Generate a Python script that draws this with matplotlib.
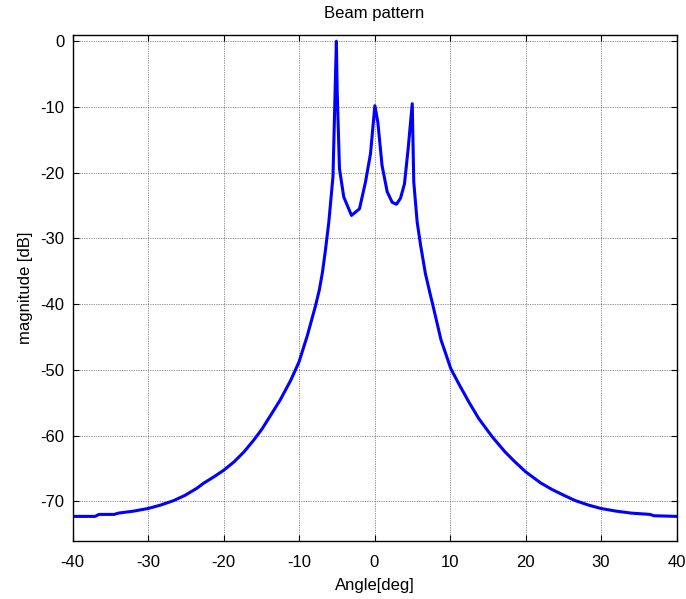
import matplotlib
matplotlib.use("Agg")
import matplotlib.pyplot as plt
import numpy as np

# data
angle_deg = [-40, -37, -36.5, -34.5, -33.9, -31.9, -30, -28.4, -26.6, -25.1,
             -23.5, -22.7, -21.3, -20, -18.6, -17.3, -16, -14.9, -13.8, -12.5,
             -11.1, -10, -8.9, -7.8, -7.3, -6.9, -6.5, -6.05, -5.5, -5.05,
             -4.94, -4.64, -4.07, -3.05, -1.99, -1.19, -0.53, 0.05, 0.44, 1.0,
             1.68, 2.34, 2.91, 3.44, 3.97, 4.46, 5.0, 5.2, 5.65, 6.1,
             6.75, 7.4, 7.7, 8.8, 10.1, 11.2, 12.5, 13.8, 15.6, 17.3,
             18.6, 20, 22, 23.5, 25.1, 26.6, 28.4, 30, 32, 34,
             36.5, 37, 40]
magnitude_db = [-72.3, -72.3, -72.0, -72.0, -71.8, -71.5, -71.1, -70.6, -69.9, -69.1,
                -68.0, -67.3, -66.3, -65.3, -64.0, -62.5, -60.7, -59.0, -57.0, -54.6,
                -51.6, -48.8, -44.8, -40.2, -37.8, -35.2, -31.8, -27.5, -20.6, 0.0,
                -7.7, -19.4, -23.7, -26.5, -25.5, -21.4, -17.1, -9.8, -12.3, -18.9,
                -22.9, -24.5, -24.8, -23.9, -21.7, -16.3, -9.5, -21.4, -27.5, -31.0,
                -35.4, -38.6, -40.0, -45.4, -49.8, -52.2, -54.9, -57.4, -60.2, -62.5,
                -64.0, -65.5, -67.2, -68.2, -69.1, -69.9, -70.6, -71.1, -71.5, -71.8,
                -72.0, -72.2, -72.3]

x_ticks = [-40, -30, -20, -10, 0, 10, 20, 30, 40]
y_ticks = [0, -10, -20, -30, -40, -50, -60, -70]

#------------------------------------------------------------
plt.rcParams["font.family"] = ["Liberation Sans", "DejaVu Sans"]
plt.rcParams["font.size"] = 12
plt.rcParams["axes.unicode_minus"] = False  # MATLAB風にハイフン

fig = plt.figure(figsize=(6.86, 5.99), dpi=100)
ax = fig.add_axes([72.5 / 686, 1 - 540.7 / 599, 604 / 686, 506 / 599])

ax.plot(angle_deg, magnitude_db, color="#0000ff", linewidth=2.2)

ax.set_xlim(-40, 40)
ax.set_ylim(-76, 1)
ax.set_xticks(x_ticks)
ax.set_yticks(y_ticks)

# MATLAB風の目盛り（内向き・四辺）
ax.tick_params(direction="in", top=True, right=True, length=4, width=0.8,
               labelsize=12)
ax.tick_params(axis="x", pad=10)
ax.tick_params(axis="y", pad=6)
for s in ax.spines.values():
    s.set_linewidth(1.0)

ax.grid(True, color="black", linestyle=(0, (1, 1.5)), linewidth=0.5, alpha=0.8)

ax.set_title("Beam pattern", fontsize=12, pad=12)
ax.set_xlabel("Angle[deg]", fontsize=12, labelpad=6)
ax.set_ylabel("magnitude [dB]", fontsize=12, labelpad=5)

fig.savefig("out.png", dpi=100)
